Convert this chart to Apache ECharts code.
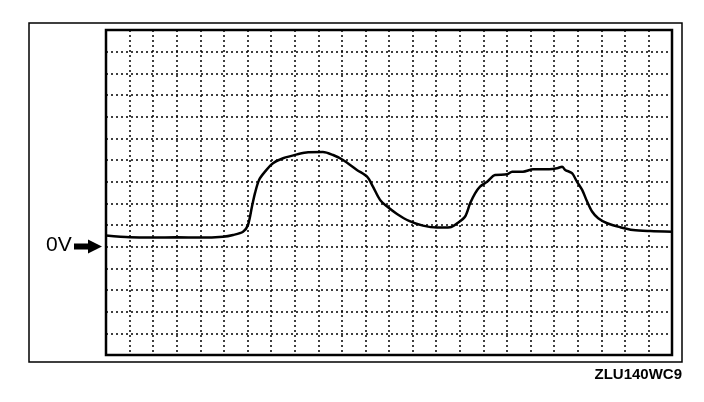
<!DOCTYPE html>
<html>
<head>
<meta charset="utf-8">
<script src="https://cdn.jsdelivr.net/npm/echarts@6/dist/echarts.min.js"></script>
<style>html,body{margin:0;padding:0;background:#fff}#c{width:704px;height:402px}</style>
</head>
<body>
<div id="c"></div>
<script>
// time in divisions (0..24), voltage in divisions (0V reference = 0)
const timeDiv = [0, 1.02, 1.99, 3.01, 3.99, 4.96, 5.39, 5.81, 6.02, 6.19, 6.32, 6.49, 6.74, 7.08, 7.51, 8.10, 8.57, 9.20, 9.63, 10.05, 10.64, 11.07, 11.32, 11.62, 11.92, 12.34, 12.85, 13.44, 14.04, 14.59, 14.89, 15.22, 15.44, 15.65, 15.86, 16.16, 16.50, 17.01, 17.22, 17.68, 18.11, 18.79, 19.13, 19.34, 19.47, 19.76, 19.97, 20.19, 20.40, 20.61, 20.87, 21.25, 21.80, 22.35, 23.07, 24.0];
const voltDiv = [0.51, 0.43, 0.42, 0.43, 0.42, 0.46, 0.54, 0.69, 1.00, 1.85, 2.48, 3.08, 3.46, 3.85, 4.08, 4.26, 4.36, 4.37, 4.23, 4.00, 3.54, 3.23, 2.77, 2.16, 1.85, 1.51, 1.19, 0.97, 0.88, 0.90, 1.08, 1.38, 2.00, 2.46, 2.77, 3.00, 3.31, 3.34, 3.46, 3.46, 3.57, 3.57, 3.62, 3.69, 3.54, 3.39, 3.00, 2.62, 2.08, 1.62, 1.31, 1.08, 0.90, 0.77, 0.72, 0.69];
const zeroLabel = '0V';
const figureCode = 'ZLU140WC9';

const chart = echarts.init(document.getElementById('c'), null, {renderer: 'canvas'});
const dotted = {color: '#000', width: 1.5, type: [2, 3]};
chart.setOption({
  animation: false,
  backgroundColor: '#fff',
  grid: {left: 106, top: 30, width: 566, height: 325, show: true, borderColor: '#000', borderWidth: 2.5, backgroundColor: 'transparent'},
  xAxis: {type: 'value', min: 0, max: 24, interval: 1,
    axisLine: {show: false}, axisTick: {show: false}, axisLabel: {show: false},
    splitLine: {show: true, lineStyle: dotted}},
  yAxis: {type: 'value', min: -5, max: 10, interval: 1,
    axisLine: {show: false}, axisTick: {show: false}, axisLabel: {show: false},
    splitLine: {show: true, lineStyle: dotted}},
  series: [{
    type: 'line', showSymbol: false, smooth: 0.3,
    lineStyle: {color: '#000', width: 2.5},
    data: timeDiv.map((t, i) => [t, voltDiv[i]])
  }],
  graphic: [
    {type: 'rect', shape: {x: 29, y: 23, width: 653, height: 339}, style: {fill: 'none', stroke: '#000', lineWidth: 1.5}, z: 10},
    {type: 'text', left: 46, top: 235, style: {text: zeroLabel, font: '21px "Liberation Sans", Arial, sans-serif', fill: '#000'}, z: 10},
    {type: 'polygon', shape: {points: [[74, 243.5], [88, 243.5], [88, 239.5], [102, 246.5], [88, 253.5], [88, 249.5], [74, 249.5]]}, style: {fill: '#000'}, z: 10},
    {type: 'text', right: 22, top: 367, style: {text: figureCode, font: 'bold 15px "Liberation Sans", Arial, sans-serif', fill: '#000'}, z: 10}
  ]
});
</script>
</body>
</html>
